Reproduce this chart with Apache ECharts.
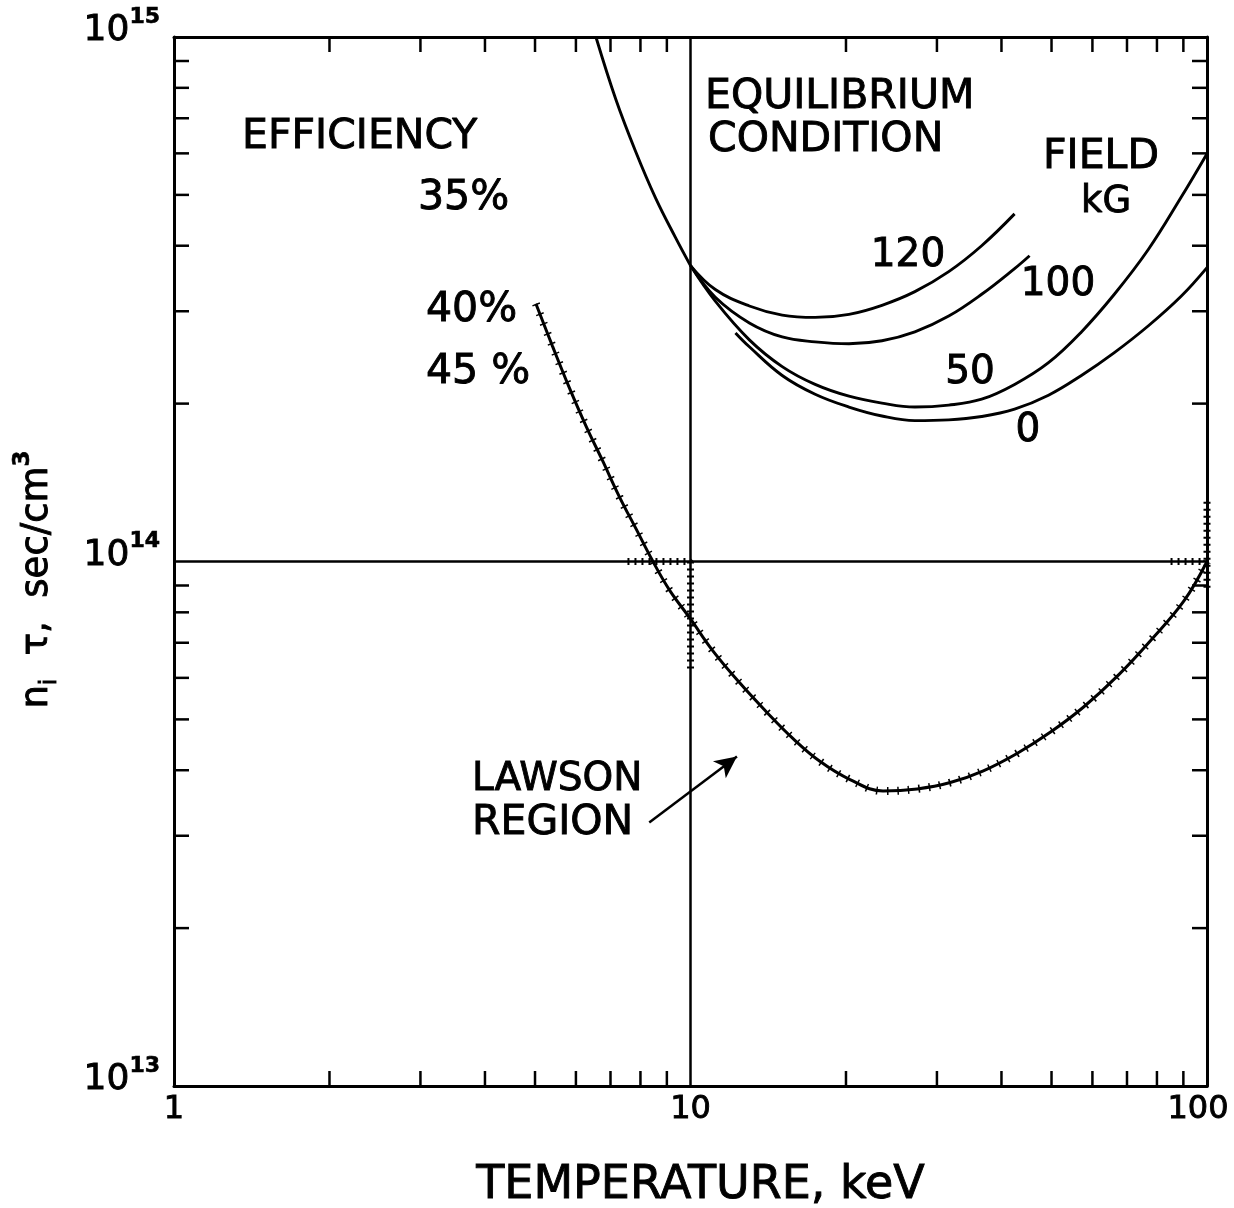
<!DOCTYPE html>
<html><head><meta charset="utf-8">
<script src="https://cdn.jsdelivr.net/npm/echarts@6/dist/echarts.min.js"></script>
<style>html,body{margin:0;padding:0;background:#fff}#c{width:1234px;height:1208px}</style>
</head><body><div id="c"></div>
<script>
// ---------- data ----------
const X_MIN = 1, X_MAX = 100, Y_MIN = 1e13, Y_MAX = 1e15;
const xMinorTicks = [2,3,4,5,6,7,8,9,20,30,40,50,60,70,80,90];
const yMinorTicks = [2e13,3e13,4e13,5e13,6e13,7e13,8e13,9e13,2e14,3e14,4e14,5e14,6e14,7e14,8e14,9e14];

// Lawson curve (temperature keV, n_i*tau)
const lawsonT = [5.02,5.40,5.82,6.28,6.75,7.28,7.86,8.44,9.10,10.0,11.03,12.45,14.05,15.78,17.80,20.36,23.59,27.47,31.84,36.90,42.95,49.79,57.69,67.20,77.87,90.23,100];
const lawsonN = [3.10e14,2.58e14,2.15e14,1.81e14,1.56e14,1.33e14,1.15e14,1.004e14,8.83e13,7.77e13,6.77e13,5.87e13,5.16e13,4.60e13,4.16e13,3.84e13,3.652e13,3.685e13,3.79e13,3.99e13,4.31e13,4.73e13,5.28e13,6.06e13,7.08e13,8.41e13,1.0e14];

// Equilibrium condition, common left branch
const equilT = [6.56,7.17,7.83,8.56,9.36,10.0];
const equilN = [1.0e15,7.6e14,6.05e14,4.93e14,4.14e14,3.666e14];

// Field curves (kG)
const field120T = [10.0,11.17,13.0,15.05,17.43,20.27,23.48,27.19,31.62,36.62,42.41];
const field120N = [3.666e14,3.30e14,3.07e14,2.95e14,2.92e14,2.96e14,3.08e14,3.27e14,3.57e14,4.00e14,4.60e14];
const field100T = [10.0,11.17,13.0,15.05,17.43,20.27,23.48,27.19,31.62,36.62,42.41,45.34];
const field100N = [3.666e14,3.19e14,2.85e14,2.68e14,2.623e14,2.601e14,2.635e14,2.74e14,2.937e14,3.232e14,3.618e14,3.828e14];
const field50T = [10.0,11.17,13.0,15.05,17.43,20.27,23.48,27.19,31.62,36.62,42.41,49.33,57.13,66.16,76.92,89.1,100];
const field50N = [3.666e14,3.135e14,2.646e14,2.353e14,2.176e14,2.066e14,2.004e14,1.970e14,1.987e14,2.039e14,2.176e14,2.394e14,2.74e14,3.232e14,3.929e14,4.947e14,5.99e14];
const field0T = [12.22,13.0,15.05,17.43,20.27,23.48,27.19,31.62,36.62,42.41,49.33,57.13,66.16,76.92,89.1,100];
const field0N = [2.728e14,2.567e14,2.263e14,2.084e14,1.970e14,1.894e14,1.856e14,1.862e14,1.890e14,1.952e14,2.075e14,2.263e14,2.502e14,2.812e14,3.204e14,3.634e14];

// Hatched boundary pieces of the Lawson region
const hatchLeftT = [7.55,10,10];
const hatchLeftN = [1e14,1e14,6.2e13];
const hatchRightAT = [85,100];
const hatchRightAN = [1e14,1e14];
const hatchRightBT = [100,100];
const hatchRightBN = [1.3e14,8.9e13];

// Arrow to Lawson region
const arrowFrom = [8.32,3.18e13];
const arrowTo = [12.3,4.25e13];

// ---------- chart ----------
const FONT = '"DejaVu Sans", sans-serif';
const BW = 0.9; // slight stroke to thicken lettering
const zip = (a,b) => a.map((v,i) => [v,b[i]]);
const ink = (o) => Object.assign({fontFamily:FONT, color:'#000', textBorderColor:'#000', textBorderWidth:BW}, o);

function curve(T,N,w){
  return {type:'line', data: zip(T,N), smooth:0.4, symbol:'none', silent:true,
    lineStyle:{color:'#000', width:w||2.9}, z:3};
}
function hatch(T,N){
  return {type:'line', data: zip(T,N), symbol:'none', silent:true,
    lineStyle:{color:'#000', width:7, type:[2,5]}, z:3};
}
function tickSeries(values, isX){
  return {
    type:'custom', coordinateSystem:'cartesian2d', silent:true, z:6,
    data: values.map(v => isX ? [v, Y_MIN] : [X_MIN, v]),
    renderItem: function(params, api){
      const L = 15, st = {stroke:'#000', lineWidth:2.5};
      if (isX){
        const v = api.value(0);
        const b = api.coord([v, Y_MIN]), t = api.coord([v, Y_MAX]);
        return {type:'group', children:[
          {type:'line', shape:{x1:b[0],y1:b[1],x2:b[0],y2:b[1]-L}, style:st},
          {type:'line', shape:{x1:t[0],y1:t[1],x2:t[0],y2:t[1]+L}, style:st}
        ]};
      } else {
        const v = api.value(1);
        const l = api.coord([X_MIN, v]), r = api.coord([X_MAX, v]);
        return {type:'group', children:[
          {type:'line', shape:{x1:l[0],y1:l[1],x2:l[0]+L,y2:l[1]}, style:st},
          {type:'line', shape:{x1:r[0],y1:r[1],x2:r[0]-L,y2:r[1]}, style:st}
        ]};
      }
    }
  };
}
function txt(s, x, y, align, size){
  return {type:'text', x:x, y:y, silent:true, z:10,
    style:{text:s, fontSize:size||41, fontFamily:'DejaVu Sans', fill:'#000', stroke:'#000', lineWidth:BW,
      align:align||'left', textAlign:align||'left', verticalAlign:'middle', textVerticalAlign:'middle'}};
}

const axisLineStyle = {show:true, onZero:false, lineStyle:{color:'#000', width:3}};
const gridLine = {show:true, lineStyle:{color:'#000', width:2.5}};

const option = {
  animation:false,
  backgroundColor:'#fff',
  grid:{left:174, right:27, top:37, bottom:122, containLabel:false, outerBoundsMode:'none'},
  xAxis:[
    {type:'log', logBase:10, min:X_MIN, max:X_MAX, position:'bottom',
     axisLine:axisLineStyle, axisTick:{show:false}, splitLine:gridLine,
     axisLabel:ink({fontSize:32, margin:8,
       formatter: v => { const s = String(Math.round(v)); return s === '100' ? '{r|' + s + '}' : s; },
       rich:{r:ink({fontSize:32, padding:[0,18,0,0]})}}),
     name:'TEMPERATURE, keV', nameLocation:'middle', nameGap:77,
     nameTextStyle:ink({fontSize:46, padding:[0,0,0,20]})},
    {type:'log', logBase:10, min:X_MIN, max:X_MAX, position:'top',
     axisLine:axisLineStyle, axisTick:{show:false}, axisLabel:{show:false}, splitLine:{show:false}}
  ],
  yAxis:[
    {type:'log', logBase:10, min:Y_MIN, max:Y_MAX, position:'left',
     axisLine:axisLineStyle, axisTick:{show:false}, splitLine:gridLine,
     axisLabel:{margin:14, padding:[0,0,12,0],
       formatter: v => '{b|10}{s|' + Math.round(Math.log10(v)) + '}',
       rich:{
         b:ink({fontSize:36, lineHeight:50}),
         s:ink({fontSize:22, lineHeight:22, verticalAlign:'top', fontWeight:'bold', textBorderWidth:0.6})
       }},
     name:'{n|n}{i|i}{n|  \u03C4,  sec/cm}{s|3}', nameLocation:'middle', nameRotate:90, nameGap:112,
     nameTextStyle:{padding:[0,0,0,-36],
       rich:{
         n:ink({fontSize:37, lineHeight:50}),
         i:ink({fontSize:23, lineHeight:23, verticalAlign:'bottom'}),
         s:ink({fontSize:23, lineHeight:23, verticalAlign:'top', fontWeight:'bold', textBorderWidth:0.6})
       }}},
    {type:'log', logBase:10, min:Y_MIN, max:Y_MAX, position:'right',
     axisLine:axisLineStyle, axisTick:{show:false}, axisLabel:{show:false}, splitLine:{show:false}}
  ],
  series:[
    tickSeries(xMinorTicks, true),
    tickSeries(yMinorTicks, false),
    Object.assign(curve(lawsonT, lawsonN, 3), {
      markLine:{silent:true, symbol:['none','arrow'], symbolSize:[16,22], label:{show:false},
        lineStyle:{color:'#000', width:2.5, type:'solid'},
        data:[[{coord:arrowFrom},{coord:arrowTo}]]}
    }),
    {type:'line', data: zip(lawsonT, lawsonN), smooth:0.4, symbol:'none', silent:true,
     lineStyle:{color:'#000', width:8, type:[1.5,9]}, z:3},
    hatch(hatchLeftT, hatchLeftN),
    hatch(hatchRightAT, hatchRightAN),
    hatch(hatchRightBT, hatchRightBN),
    curve(equilT, equilN),
    curve(field120T, field120N),
    curve(field100T, field100N),
    curve(field50T, field50N),
    curve(field0T, field0N)
  ],
  graphic:[
    txt('EFFICIENCY', 242, 137),
    txt('35%', 418, 198),
    txt('40%', 426, 310),
    txt('45 %', 426, 372),
    txt('EQUILIBRIUM', 705, 97),
    txt('CONDITION', 708, 140),
    txt('FIELD', 1043, 157),
    txt('kG', 1106, 202, 'center', 37),
    txt('120', 908, 256, 'center', 39),
    txt('100', 1058, 285, 'center', 39),
    txt('50', 970, 373, 'center', 39),
    txt('0', 1028, 431, 'center', 39),
    txt('LAWSON', 472, 780, 'left', 39),
    txt('REGION', 472, 823)
  ]
};
const chart = echarts.init(document.getElementById('c'), null, {renderer:'canvas'});
chart.setOption(option);
</script></body></html>
